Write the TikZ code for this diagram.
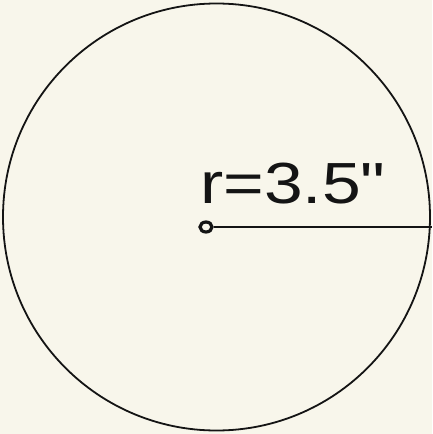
\documentclass[tikz,border=0pt]{standalone}
\usepackage{fontspec}
\setmainfont{Liberation Sans}
\usepackage{xcolor}
\definecolor{papier}{RGB}{248, 246, 235}
\definecolor{encre}{RGB}{20, 20, 20}
\usetikzlibrary{positioning, shapes.geometric}

\begin{document}
\begin{tikzpicture}[
  x=1pt, y=-1pt,
  disc/.style={circle, draw=encre, line width=1.8pt, minimum size=427pt, inner sep=0pt},
  pivot/.style={ellipse, draw=encre, line width=3.2pt, minimum width=12pt, minimum height=10pt, inner sep=0pt},
  radius/.style={draw=encre, line width=2.6pt},
  label/.style={font=\fontsize{58}{60}\selectfont, text=encre, inner sep=0pt, anchor=base west, xscale=1.2}
]
% Paper
\fill[papier] (0,0) rectangle (432,434);
\useasboundingbox (0,0) rectangle (432,434);
% Circle and centre
\node[disc] (circ) at (216.5,217) {};
\node[pivot] (ctr) at (206,227) {};
\coordinate (rim) at (432,227);
% Radius
\draw[radius] (ctr) -- (rim);
\node[label] (rlab) at (200,203) {r=3.5\textquotedbl};
\end{tikzpicture}
\end{document}
